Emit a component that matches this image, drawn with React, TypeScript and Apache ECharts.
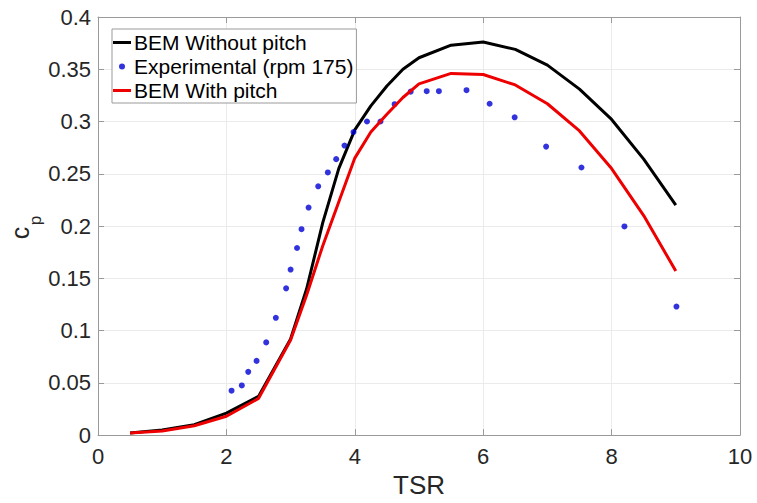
import React, { useEffect, useRef } from "react";
import * as echarts from "echarts";

// BEM line results (TSR vs Cp)
const bemTsr = [0.5, 1, 1.5, 2, 2.5, 3, 3.25, 3.5, 3.75, 4, 4.25, 4.5, 4.75, 5, 5.5, 6, 6.5, 7, 7.5, 8, 8.5, 9];
const bemWithoutPitch = [0.002, 0.005, 0.010, 0.021, 0.037, 0.092, 0.140, 0.203, 0.255, 0.292, 0.315, 0.334, 0.350, 0.361, 0.373, 0.376, 0.369, 0.354, 0.331, 0.302, 0.264, 0.220];
const bemWithPitch = [0.002, 0.004, 0.009, 0.018, 0.035, 0.091, 0.134, 0.181, 0.223, 0.265, 0.290, 0.307, 0.323, 0.336, 0.346, 0.345, 0.335, 0.317, 0.291, 0.255, 0.210, 0.157];

// Experimental points (rpm 175)
const expTsr = [2.08, 2.24, 2.34, 2.47, 2.62, 2.77, 2.93, 3.0, 3.1, 3.17, 3.28, 3.43, 3.58, 3.71, 3.84, 3.98, 4.19, 4.4, 4.62, 4.87, 5.12, 5.31, 5.74, 6.1, 6.49, 6.98, 7.53, 8.2, 9.01];
const expCp = [0.0425, 0.0475, 0.0605, 0.071, 0.0887, 0.1122, 0.1404, 0.1584, 0.179, 0.197, 0.2177, 0.238, 0.2513, 0.264, 0.277, 0.29, 0.3, 0.3, 0.3166, 0.3286, 0.329, 0.329, 0.33, 0.317, 0.304, 0.276, 0.256, 0.1996, 0.123];

const seriesNames = ["BEM Without pitch", "Experimental (rpm 175)", "BEM With pitch"];
const xTitle = "TSR";
const yTitleMain = "c";
const yTitleSub = "p";

const FONT = "'Liberation Sans', Arial, Helvetica, sans-serif";
const AXIS = "#9a9a9a";
const TEXT = "#262626";
const LINE_ICON = "path://M0,0H18V3H0Z";
const DOT_ICON = "path://M5,0A5,5,0,1,1,5,10A5,5,0,1,1,5,0Z";

export default function App() {
  const ref = useRef<HTMLDivElement>(null);
  useEffect(() => {
    if (!ref.current) return;
    const chart = echarts.init(ref.current, undefined, { renderer: "svg" });
    const pair = (xs: number[], ys: number[]) => xs.map((x, i) => [x, ys[i]]);
    const tickFmt = (v: number) => String(+v.toFixed(2));
    chart.setOption({
      animation: false,
      backgroundColor: "#fff",
      grid: { left: 98, right: 17, top: 17, bottom: 65, show: false },
      graphic: [
        {
          type: "text",
          x: 20,
          y: 233,
          rotation: Math.PI / 2,
          style: { text: yTitleMain, fontSize: 25, fontFamily: FONT, fill: TEXT, align: "center", verticalAlign: "middle" },
        },
        {
          type: "text",
          x: 35,
          y: 220.5,
          rotation: Math.PI / 2,
          style: { text: yTitleSub, fontSize: 17, fontFamily: FONT, fill: TEXT, align: "center", verticalAlign: "middle" },
        },
      ],
      legend: {
        left: 112,
        top: 29,
        orient: "vertical",
        backgroundColor: "#fff",
        borderColor: AXIS,
        borderWidth: 1,
        borderRadius: 0,
        padding: [3, 3, 2, 1],
        itemGap: 3,
        itemWidth: 18,
        itemHeight: 6,
        symbolKeepAspect: true,
        itemStyle: { borderWidth: 0 },
        textStyle: { fontSize: 21, fontFamily: FONT, color: "#000", padding: [0, 0, 0, -2] },
        data: [
          { name: seriesNames[0], icon: LINE_ICON },
          { name: seriesNames[1], icon: DOT_ICON },
          { name: seriesNames[2], icon: LINE_ICON },
        ],
      },
      xAxis: [
        {
          type: "value",
          min: 0,
          max: 10,
          interval: 2,
          position: "bottom",
          name: xTitle,
          nameLocation: "middle",
          nameGap: 36,
          nameTextStyle: { fontSize: 26, fontFamily: FONT, color: TEXT },
          axisLine: { show: true, onZero: false, lineStyle: { color: AXIS, width: 1 } },
          axisTick: { show: true, inside: true, length: 6, lineStyle: { color: AXIS } },
          axisLabel: { fontSize: 22, fontFamily: FONT, color: TEXT, margin: 10, formatter: tickFmt },
          splitLine: { show: true, lineStyle: { color: "#ebebeb", width: 1 } },
        },
        {
          type: "value",
          min: 0,
          max: 10,
          interval: 2,
          position: "top",
          axisLine: { show: true, onZero: false, lineStyle: { color: AXIS, width: 1 } },
          axisTick: { show: true, inside: true, length: 6, lineStyle: { color: AXIS } },
          axisLabel: { show: false },
          splitLine: { show: false },
        },
      ],
      yAxis: [
        {
          type: "value",
          min: 0,
          max: 0.4,
          interval: 0.05,
          position: "left",
          axisLine: { show: true, onZero: false, lineStyle: { color: AXIS, width: 1 } },
          axisTick: { show: true, inside: true, length: 6, lineStyle: { color: AXIS } },
          axisLabel: { fontSize: 22, fontFamily: FONT, color: TEXT, margin: 7, formatter: tickFmt },
          splitLine: { show: true, lineStyle: { color: "#ebebeb", width: 1 } },
        },
        {
          type: "value",
          min: 0,
          max: 0.4,
          interval: 0.05,
          position: "right",
          axisLine: { show: true, onZero: false, lineStyle: { color: AXIS, width: 1 } },
          axisTick: { show: true, inside: true, length: 6, lineStyle: { color: AXIS } },
          axisLabel: { show: false },
          splitLine: { show: false },
        },
      ],
      series: [
        {
          name: seriesNames[0],
          type: "line",
          xAxisIndex: 0,
          yAxisIndex: 0,
          data: pair(bemTsr, bemWithoutPitch),
          showSymbol: false,
          symbol: "none",
          itemStyle: { color: "#000000" },
          lineStyle: { color: "#000000", width: 3 },
          z: 2,
        },
        {
          name: seriesNames[1],
          type: "scatter",
          xAxisIndex: 0,
          yAxisIndex: 0,
          data: pair(expTsr, expCp),
          symbol: "circle",
          symbolSize: 6,
          itemStyle: { color: "#0000d6" },
          z: 3,
        },
        {
          name: seriesNames[2],
          type: "line",
          xAxisIndex: 0,
          yAxisIndex: 0,
          data: pair(bemTsr, bemWithPitch),
          showSymbol: false,
          symbol: "none",
          itemStyle: { color: "#ee0000" },
          lineStyle: { color: "#ee0000", width: 3 },
          z: 4,
        },
      ],
    });
    return () => chart.dispose();
  }, []);
  return (
    <div
      ref={ref}
      style={{ position: "absolute", left: 0, top: 0, width: 757, height: 503, background: "#fff" }}
    />
  );
}
